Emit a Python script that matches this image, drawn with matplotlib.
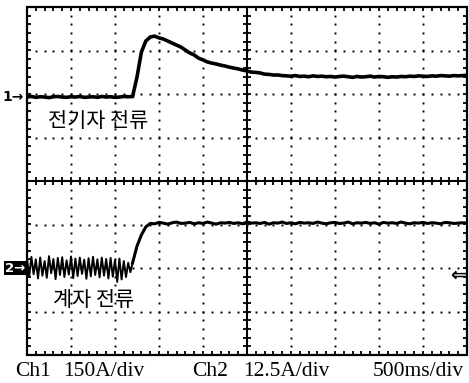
import numpy as np
import matplotlib
matplotlib.use("Agg")
import matplotlib.pyplot as plt
from matplotlib.collections import LineCollection
from matplotlib.patches import Rectangle

# ---- scope settings -------------------------------------------------------
ch1_scale = 150.0      # A/div
ch2_scale = 12.5       # A/div
time_scale = 500.0     # ms/div
ch1_pos = 1.93         # ground marker position, divisions from centre
ch2_pos = -2.0
trig_pos = -2.16

# ---- Ch1: armature current (A), one sample every 50 ms --------------------
ch1_step = 50
ch1_amps = [
    0, 2, -1, 1, 0, -2, 1, 2, 0, -1,
    1, 0, 2, -1, 0, 1, -1, 2, 0, 1,
    -1, 0, 2, 1,
    2, 69, 155, 193, 207, 210, 204, 200, 193, 186,
    179, 172, 162, 152, 145, 134, 128, 121, 117, 114,
    110, 107, 103, 100, 97, 93, 90, 86, 85, 83,
    79, 78, 76, 76, 74,
    73, 72, 74, 71, 72, 70, 73, 71, 72, 70,
    71, 69, 71, 72, 70, 68, 71, 69, 70, 72,
    69, 71, 70, 68, 70, 69, 71, 70, 72, 71,
    73, 72, 71, 73, 72, 74, 73, 72, 74, 73,
    74, 75,
]

# ---- Ch2: field current (A) -----------------------------------------------
# before the step, sampled every 25 ms
ch2_early_step = 25
ch2_early_amps = [
    2.8, -2.5, 3.2, -1.8, 2.5, -3.0, 3.0, -2.2, 2.0, -2.8,
    3.4, -1.5, 2.6, -3.2, 2.9, -2.0, 3.1, -2.6, 2.2, -1.9,
    3.3, -2.9, 2.7, -2.3, 3.0, -1.7, 2.4, -3.1, 2.8, -2.4,
    3.2, -2.0, 2.5, -2.7, 3.0, -2.2, 2.6, -3.0, 2.9, -2.5,
    2.3, -4.0, 2.7, -3.3, 2.0, -2.6, 1.5, -1.2,
]
# from 1200 ms on, sampled every 50 ms
ch2_late_start = 1200
ch2_late_step = 50
ch2_late_amps = [
    1.5, 6.3, 9.5, 11.8, 12.8,
    12.7, 13.1, 12.9, 12.6, 13.0, 13.2, 12.8, 12.9, 13.1, 12.7,
    13.0, 12.8, 13.2, 12.9, 12.6, 13.0, 12.9, 13.1, 12.8, 13.0,
    12.7, 13.2, 12.9, 13.0, 12.8, 13.1, 12.6, 13.0, 12.9, 13.2,
    12.8, 13.0, 12.7, 13.1, 12.9, 13.0, 12.8, 13.2, 12.9, 12.7,
    13.0, 13.1, 12.8, 12.9, 13.2, 12.7, 13.0, 12.9, 13.1, 12.8,
    13.0, 12.6, 13.1, 12.9, 13.0, 12.8, 13.2, 12.9, 12.7, 13.0,
    12.9, 13.1, 12.8, 13.0, 12.9, 12.7, 13.1, 13.0, 12.8, 12.9,
    13.0, 12.9,
]

ch1_label = "전기자 전류"
ch2_label = "계자 전류"
footer = [("Ch1", 15), ("150A/div", 63), ("Ch2", 192), ("12.5A/div", 243), ("500ms/div", 373)]

# ---- figure ---------------------------------------------------------------
W, H = 469, 383
fig = plt.figure(figsize=(W / 100, H / 100), dpi=100)
L, R, T, B = 27, 467, 7, 355
rect = [L / W, 1 - B / H, (R - L) / W, (B - T) / H]

ax = fig.add_axes(rect)
ax.set_xlim(0, 10)
ax.set_ylim(-4, 4)
ax.axis("off")

# dotted graticule
xs_minor = np.arange(0, 10.001, 0.2)
ys_minor = np.arange(-4, 4.001, 0.2)
for xv in [1, 2, 3, 4, 6, 7, 8, 9]:
    ax.plot(np.full(len(ys_minor) - 2, xv), ys_minor[1:-1], "s", ms=1.4,
            mec="none", color="black")
for yv in [-3, -2, -1, 1, 2, 3]:
    ax.plot(xs_minor[1:-1], np.full(len(xs_minor) - 2, yv), "s", ms=1.4,
            mec="none", color="black")

# centre cross and its ticks
ax.plot([5, 5], [-4, 4], color="black", lw=1.5, solid_capstyle="butt")
ax.plot([0, 10], [0, 0], color="black", lw=1.5, solid_capstyle="butt")
tl = 0.1
segs = []
for xv in xs_minor:
    segs.append([(xv, -tl), (xv, tl)])
    segs.append([(xv, 4), (xv, 4 - tl)])
    segs.append([(xv, -4), (xv, -4 + tl)])
for yv in ys_minor:
    segs.append([(5 - tl, yv), (5 + tl, yv)])
    segs.append([(0, yv), (tl, yv)])
    segs.append([(10, yv), (10 - tl, yv)])
ax.add_collection(LineCollection(segs, colors="black", linewidths=1.3))

ax.add_patch(Rectangle((0, -4), 10, 8, fill=False, ec="black", lw=1.6,
                       clip_on=False))

# channel axes share the screen
t_end = 10 * time_scale
ax1 = fig.add_axes(rect)
ax1.set_xlim(0, t_end)
ax1.set_ylim((-4 - ch1_pos) * ch1_scale, (4 - ch1_pos) * ch1_scale)
ax1.axis("off")
ax1.patch.set_alpha(0)

ax2 = fig.add_axes(rect)
ax2.set_xlim(0, t_end)
ax2.set_ylim((-4 - ch2_pos) * ch2_scale, (4 - ch2_pos) * ch2_scale)
ax2.axis("off")
ax2.patch.set_alpha(0)

t1 = np.arange(len(ch1_amps)) * ch1_step
ax1.plot(t1, ch1_amps, color="black", lw=2.6, solid_joinstyle="miter")

# ripple before the step drawn thinner, then the settled trace
t2a = np.arange(len(ch2_early_amps)) * ch2_early_step
t2b = ch2_late_start + np.arange(len(ch2_late_amps)) * ch2_late_step
ax2.plot(np.append(t2a, t2b[0]), np.append(ch2_early_amps, ch2_late_amps[0]),
         color="black", lw=1.4)
ax2.plot(t2b, ch2_late_amps, color="black", lw=2.2)

# channel ground markers
ax1.annotate("1→", xy=(0, 0), xytext=(-2, 0), textcoords="offset points",
             ha="right", va="center", fontsize=10, fontweight="bold",
             annotation_clip=False)
ax2.annotate("2→", xy=(0, 0), xytext=(-1.5, 0), textcoords="offset points",
             ha="right", va="center", fontsize=9.5, fontweight="bold",
             color="white", annotation_clip=False,
             bbox=dict(boxstyle="square,pad=0.06", fc="black", ec="none"))

# trigger level marker
ax.text(9.99, trig_pos, "⇐", ha="right", va="center", fontsize=14,
        fontweight="bold")

# trace labels
ax.text(0.48, 1.38, ch1_label, family=["Noto Sans CJK KR", "DejaVu Sans"],
        fontsize=15, ha="left", va="center")
ax.text(0.59, -2.74, ch2_label, family=["Noto Sans CJK KR", "DejaVu Sans"],
        fontsize=15, ha="left", va="center")

# settings line
for txt, px in footer:
    fig.text(px / W, 1 - 376 / H, txt, family="Liberation Serif",
             fontsize=15.5, ha="left", va="baseline")

fig.savefig("out.png", dpi=100, facecolor="white")
